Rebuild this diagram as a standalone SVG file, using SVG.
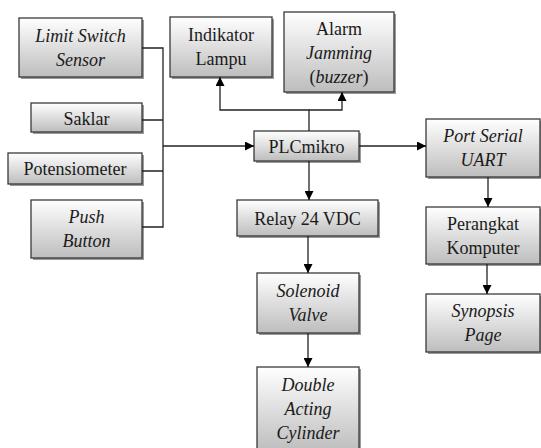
<svg xmlns="http://www.w3.org/2000/svg" width="541" height="448" viewBox="0 0 541 448">
<defs>
<linearGradient id="g" x1="0" y1="0" x2="0" y2="1">
<stop offset="0" stop-color="#ffffff"/>
<stop offset="1" stop-color="#bdbdbd"/>
</linearGradient>
<marker id="ah" viewBox="0 0 10 10" refX="10" refY="5" markerWidth="9" markerHeight="9" markerUnits="userSpaceOnUse" orient="auto">
<path d="M0,0 L10,5 L0,10 Z" fill="#000"/>
</marker>
</defs>
<style>
.box{fill:url(#g);stroke:#3a3a3a;stroke-width:1.3}
.sh{fill:#9a9a9a}
.t{font-family:Liberation Serif, serif;font-size:18px;fill:#1a1a1a;text-anchor:middle}
.i{font-style:italic}
.c{fill:none;stroke:#222;stroke-width:1.3}
</style>
<rect width="541" height="448" fill="#fff"/>
<g id="n-limit"><rect class="sh" x="21" y="20" width="123" height="59"/><rect class="box" x="19" y="18" width="123" height="59"/><text class="t i" x="80.5" y="41.5">Limit Switch</text><text class="t i" x="80.5" y="65.5">Sensor</text></g>
<g id="n-saklar"><rect class="sh" x="33" y="105" width="111" height="29"/><rect class="box" x="31" y="103" width="111" height="29"/><text class="t" x="86.5" y="124.5">Saklar</text></g>
<g id="n-poten"><rect class="sh" x="10" y="155" width="134" height="31"/><rect class="box" x="8" y="153" width="134" height="31"/><text class="t" x="75" y="175">Potensiometer</text></g>
<g id="n-push"><rect class="sh" x="33" y="202" width="111" height="58"/><rect class="box" x="31" y="200" width="111" height="58"/><text class="t i" x="86.5" y="223">Push</text><text class="t i" x="86.5" y="247">Button</text></g>
<g id="n-lampu"><rect class="sh" x="172" y="19" width="102" height="60"/><rect class="box" x="170" y="17" width="102" height="60"/><text class="t" x="221" y="41">Indikator</text><text class="t" x="221" y="65">Lampu</text></g>
<g id="n-alarm"><rect class="sh" x="286" y="14" width="110" height="80"/><rect class="box" x="284" y="12" width="110" height="80"/><text class="t" x="339" y="35">Alarm</text><text class="t i" x="339" y="58.5">Jamming</text><text class="t" x="339" y="82.5">(<tspan class="i">buzzer</tspan>)</text></g>
<g id="n-plc"><rect class="sh" x="256" y="133" width="105" height="30"/><rect class="box" x="254" y="131" width="105" height="30"/><text class="t" x="306.5" y="152.5">PLCmikro</text></g>
<g id="n-port"><rect class="sh" x="428" y="121" width="114" height="58"/><rect class="box" x="426" y="119" width="114" height="58"/><text class="t i" x="483" y="142">Port Serial</text><text class="t i" x="483" y="166">UART</text></g>
<g id="n-perangkat"><rect class="sh" x="428" y="209" width="114" height="57"/><rect class="box" x="426" y="207" width="114" height="57"/><text class="t" x="483" y="229.5">Perangkat</text><text class="t" x="483" y="253.5">Komputer</text></g>
<g id="n-synopsis"><rect class="sh" x="428" y="296" width="114" height="58"/><rect class="box" x="426" y="294" width="114" height="58"/><text class="t i" x="483" y="317">Synopsis</text><text class="t i" x="483" y="341">Page</text></g>
<g id="n-relay"><rect class="sh" x="239" y="202" width="141" height="36"/><rect class="box" x="237" y="200" width="141" height="36"/><text class="t" x="307.5" y="224.5">Relay 24 VDC</text></g>
<g id="n-solenoid"><rect class="sh" x="259" y="275" width="102" height="60"/><rect class="box" x="257" y="273" width="102" height="60"/><text class="t i" x="308" y="297">Solenoid</text><text class="t i" x="308" y="321">Valve</text></g>
<g id="n-cylinder"><rect class="sh" x="259" y="369" width="102" height="85"/><rect class="box" x="257" y="367" width="102" height="85"/><text class="t i" x="308" y="391">Double</text><text class="t i" x="308" y="415">Acting</text><text class="t i" x="308" y="439">Cylinder</text></g>
<g id="connectors">
<path class="c" d="M142,48 H163 V227 H142 M142,120 H163 M142,171 H163"/>
<path class="c" d="M163,146 H254" marker-end="url(#ah)"/>
<path class="c" d="M309,131 V110 H220 V77" marker-end="url(#ah)"/>
<path class="c" d="M309,110 H342 V92" marker-end="url(#ah)"/>
<path class="c" d="M359,146 H426" marker-end="url(#ah)"/>
<path class="c" d="M488,177 V207" marker-end="url(#ah)"/>
<path class="c" d="M487,264 V294" marker-end="url(#ah)"/>
<path class="c" d="M309,161 V200" marker-end="url(#ah)"/>
<path class="c" d="M308,236 V273" marker-end="url(#ah)"/>
<path class="c" d="M308,333 V367" marker-end="url(#ah)"/>
</g>
</svg>
